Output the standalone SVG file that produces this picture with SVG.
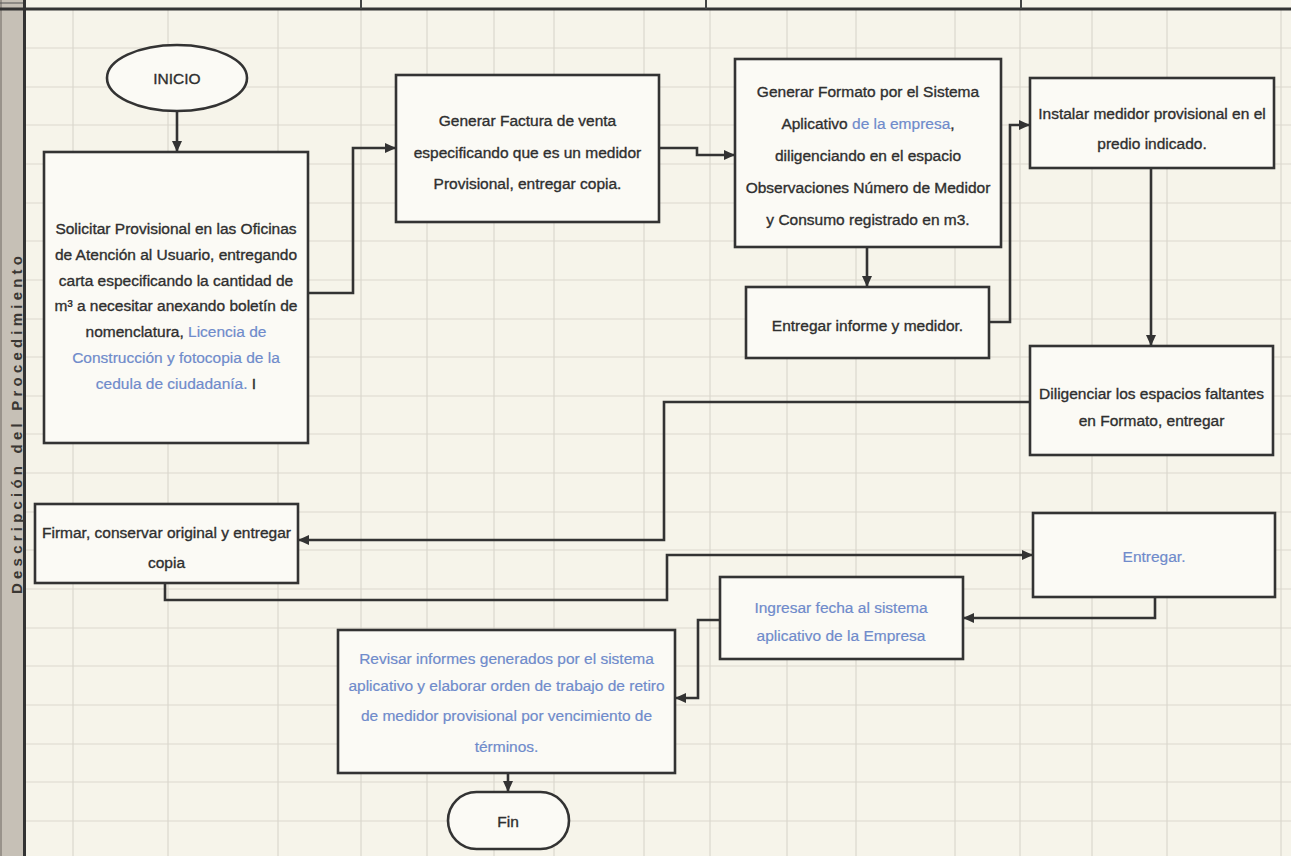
<svg xmlns="http://www.w3.org/2000/svg" width="1291" height="856" viewBox="0 0 1291 856">
<style>
.bg{fill:#f6f4ea}
.grid{stroke:#dbd8ce;stroke-width:1.2;fill:none}
.box{fill:#fbfaf5;stroke:#333;stroke-width:2.6}
.conn{fill:none;stroke:#333;stroke-width:2.6}
.t{font-family:"Liberation Sans",Arial,sans-serif;font-size:15.5px;fill:#2f2f2f;stroke:#2f2f2f;stroke-width:0.35;text-anchor:middle}
.b{fill:#6f8bcb;stroke:#6f8bcb;stroke-width:0.2}
.side{font-family:"Liberation Sans",Arial,sans-serif;font-size:15px;font-weight:bold;fill:#3a3733;text-anchor:middle}
</style>
<defs>
<marker id="ah" markerUnits="userSpaceOnUse" markerWidth="11" markerHeight="10" refX="10" refY="5" orient="auto">
<path d="M0,0 L11,5 L0,10 z" fill="#333"/>
</marker>
</defs>
<rect class="bg" x="0" y="0" width="1291" height="856"/>
<g id="grid">
<path class="grid" d="M26,48H1291M26,87H1291M26,125H1291M26,164H1291M26,203H1291M26,241H1291M26,280H1291M26,319H1291M26,357H1291M26,396H1291M26,434H1291M26,473H1291M26,512H1291M26,550H1291M26,589H1291M26,628H1291M26,666H1291M26,705H1291M26,744H1291M26,782H1291M26,821H1291"/>
<path class="grid" d="M73,10V856M168,10V856M278,10V856M361,10V856M427,10V856M494,10V856M554,10V856M644,10V856M710,10V856M787,10V856M856,10V856M955,10V856M1020,10V856M1092,10V856M1167,10V856M1281,10V856"/>
</g>
<g id="frame">
<rect x="0" y="0" width="23" height="856" fill="#c6c0b6"/>
<path d="M1,0V856" stroke="#8a857c" stroke-width="1.5"/>
<path d="M24.5,0V856" stroke="#333" stroke-width="3"/>
<path d="M0,9H1291" stroke="#333" stroke-width="3"/>
<path d="M0,3H23" stroke="#555" stroke-width="1"/>
<path d="M361,0V9M706,0V9M1021,0V9" stroke="#444" stroke-width="2"/>
<text class="side" transform="translate(21.5,425) rotate(-90)" x="0" y="0" textLength="338" lengthAdjust="spacing">Descripción del Procedimiento</text>
</g>
<g id="connectors">
<path class="conn" d="M177,112V151" marker-end="url(#ah)"/>
<path class="conn" d="M308,293H353V148H395" marker-end="url(#ah)"/>
<path class="conn" d="M659,148H697V155H734" marker-end="url(#ah)"/>
<path class="conn" d="M867,247V286" marker-end="url(#ah)"/>
<path class="conn" d="M989,322H1010V125H1029" marker-end="url(#ah)"/>
<path class="conn" d="M1151,168V345" marker-end="url(#ah)"/>
<path class="conn" d="M1030,402H664V540H299" marker-end="url(#ah)"/>
<path class="conn" d="M165,583V600H667V555H1032" marker-end="url(#ah)"/>
<path class="conn" d="M1155,597V618H964" marker-end="url(#ah)"/>
<path class="conn" d="M720,620H698V698H676" marker-end="url(#ah)"/>
<path class="conn" d="M508,773V791" marker-end="url(#ah)"/>
</g>
<g id="inicio">
<ellipse class="box" cx="177" cy="78" rx="70" ry="33"/>
<text class="t" x="177" y="83.5">INICIO</text>
</g>
<g id="solicitar">
<rect class="box" x="44" y="152" width="264" height="291"/>
<text class="t" x="176" y="233.5">Solicitar Provisional en las Oficinas</text>
<text class="t" x="176" y="259.5">de Atención al Usuario, entregando</text>
<text class="t" x="176" y="285.5">carta especificando la cantidad de</text>
<text class="t" x="176" y="311">m³ a necesitar anexando boletín de</text>
<text class="t" x="176" y="336.5">nomenclatura,<tspan class="b"> Licencia de</tspan></text>
<text class="t b" x="176" y="362.5">Construcción y fotocopia de la</text>
<text class="t" x="176" y="388.5"><tspan class="b">cedula de ciudadanía.</tspan>  I</text>
</g>
<g id="factura">
<rect class="box" x="396" y="75" width="263" height="147"/>
<text class="t" x="527.5" y="125.5">Generar Factura de venta</text>
<text class="t" x="527.5" y="157.5">especificando que es un medidor</text>
<text class="t" x="527.5" y="188.5">Provisional, entregar copia.</text>
</g>
<g id="formato">
<rect class="box" x="735" y="59" width="266" height="188"/>
<text class="t" x="868" y="96.5">Generar Formato por el Sistema</text>
<text class="t" x="868" y="128.5">Aplicativo<tspan class="b"> de la empresa</tspan>,</text>
<text class="t" x="868" y="160.5">diligenciando en el espacio</text>
<text class="t" x="868" y="192.5">Observaciones Número de Medidor</text>
<text class="t" x="868" y="224.5">y Consumo registrado en m3.</text>
</g>
<g id="entregar-informe">
<rect class="box" x="746" y="287" width="243" height="71"/>
<text class="t" x="867.5" y="330.5">Entregar informe y medidor.</text>
</g>
<g id="instalar">
<rect class="box" x="1030" y="78" width="244" height="90"/>
<text class="t" x="1152" y="118.5">Instalar medidor provisional en el</text>
<text class="t" x="1152" y="148.5">predio indicado.</text>
</g>
<g id="diligenciar">
<rect class="box" x="1030" y="346" width="243" height="109"/>
<text class="t" x="1151.5" y="398.5">Diligenciar los espacios faltantes</text>
<text class="t" x="1151.5" y="425.5">en Formato, entregar</text>
</g>
<g id="firmar">
<rect class="box" x="35" y="504" width="263" height="79"/>
<text class="t" x="166.5" y="537.5">Firmar, conservar original y entregar</text>
<text class="t" x="166.5" y="567.5">copia</text>
</g>
<g id="entregar">
<rect class="box" x="1033" y="513" width="242" height="84"/>
<text class="t b" x="1154" y="561.5">Entregar.</text>
</g>
<g id="ingresar">
<rect class="box" x="720" y="577" width="243" height="82"/>
<text class="t b" x="841" y="612.5">Ingresar fecha al sistema</text>
<text class="t b" x="841" y="640.5">aplicativo de la Empresa</text>
</g>
<g id="revisar">
<rect class="box" x="338" y="630" width="337" height="143"/>
<text class="t b" x="506.5" y="663.5">Revisar informes generados por el sistema</text>
<text class="t b" x="506.5" y="691">aplicativo y elaborar orden de trabajo de retiro</text>
<text class="t b" x="506.5" y="720.5">de medidor provisional por vencimiento de</text>
<text class="t b" x="506.5" y="751.5">términos.</text>
</g>
<g id="fin">
<rect class="box" x="448" y="792" width="121" height="57" rx="28.5" ry="28.5"/>
<text class="t" x="508" y="826.5">Fin</text>
</g>
</svg>
